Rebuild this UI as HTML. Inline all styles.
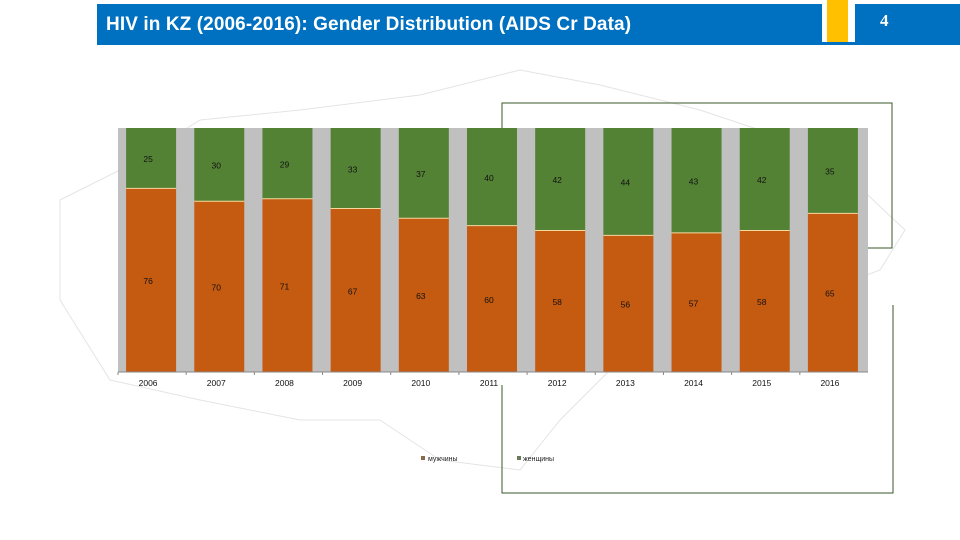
<!DOCTYPE html>
<html><head><meta charset="utf-8"><style>
body{margin:0;width:960px;height:540px;background:#fff;overflow:hidden;font-family:"Liberation Sans",sans-serif;position:relative}
.hdr{position:absolute;left:97px;top:4px;width:863px;height:41px;background:#0070c0}
.ttl{position:absolute;left:106px;top:14px;color:#fff;font-size:19px;font-weight:bold;letter-spacing:0.1px}
</style></head><body>
<div class="hdr"></div>
<div class="ttl">HIV in KZ (2006-2016): Gender Distribution (AIDS Cr Data)</div>
<div style="position:absolute;left:822px;top:0;width:33px;height:42px;background:#fff"></div>
<div style="position:absolute;left:827px;top:0;width:21px;height:42px;background:#ffc000"></div>
<div style="position:absolute;left:880px;top:11px;color:#fff;font:bold 17px 'Liberation Serif',serif">4</div>
<svg id="c" width="960" height="540" style="position:absolute;left:0;top:0">
<path d="M60 200 L120 170 L200 120 L300 110 L420 95 L520 70 L600 85 L700 110 L820 150 L905 230 L880 270 L800 300 L700 330 L620 360 L560 420 L520 470 L440 460 L380 420 L300 420 L200 400 L110 380 L60 300 Z" fill="none" stroke="#e4e4e4" stroke-width="1"/>
<path d="M502 103 H892 V248 H502 Z M502 385 V493 H893 V305" fill="none" stroke="#3a5a2a" stroke-width="1"/>
</svg>
<script>
const categories=["2006","2007","2008","2009","2010","2011","2012","2013","2014","2015","2016"];
const men=[76,70,71,67,63,60,58,56,57,58,65];
const women=[25,30,29,33,37,40,42,44,43,42,35];
const svg=document.getElementById('c');const NS='http://www.w3.org/2000/svg';
const X0=118,X1=868,Y0=128,Y1=372;
const cw=(X1-X0)/categories.length,bw=50;
function xc(i){return X0+cw*(i+0.5)-1;}
function y(f){return Y1-(Y1-Y0)*f;}
function mk(t,a){const e=document.createElementNS(NS,t);for(const k in a)e.setAttribute(k,a[k]);svg.appendChild(e);return e;}
const bg=mk('rect',{x:X0,y:Y0,width:X1-X0,height:Y1-Y0,fill:'#c0c0c0'});


categories.forEach((c,i)=>{
 const tot=men[i]+women[i],fm=men[i]/tot;
 const r1=mk('rect',{x:xc(i)-bw/2,y:y(fm),width:bw,height:Y1-y(fm),fill:'#c55a11'});
 
 
 const r2=mk('rect',{x:xc(i)-bw/2,y:Y0,width:bw,height:y(fm)-Y0,fill:'#548235'});
 
 
 mk('line',{x1:xc(i)-bw/2,x2:xc(i)+bw/2,y1:y(fm),y2:y(fm),stroke:'#f4d9a0','stroke-width':1});
 const t1=mk('text',{x:xc(i)-3,y:(y(fm)+Y1)/2+4,'font-size':8.5,'text-anchor':'middle',fill:'#111'});t1.textContent=men[i];
 
 
 const t2=mk('text',{x:xc(i)-3,y:(y(fm)+Y0)/2+4,'font-size':8.5,'text-anchor':'middle',fill:'#111'});t2.textContent=women[i];
 
 
 const t3=mk('text',{x:xc(i)-3,y:386,'font-size':8.5,'text-anchor':'middle',fill:'#111'});t3.textContent=c;
 
 
 mk('line',{x1:X0+cw*i,x2:X0+cw*i,y1:Y1,y2:Y1+3,stroke:'#888'});
});
mk('line',{x1:X0,x2:X1,y1:Y1,y2:Y1,stroke:'#888'});
const l1=mk('rect',{x:421,y:456,width:4,height:4,fill:'#8a6a4a'});


const lt1=mk('text',{x:428,y:461,'font-size':7,fill:'#222'});lt1.textContent='мужчины';


const l2=mk('rect',{x:517,y:456,width:4,height:4,fill:'#6a7a5a'});


const lt2=mk('text',{x:523,y:461,'font-size':7,fill:'#222'});lt2.textContent='женщины';


</script>
</body></html>
